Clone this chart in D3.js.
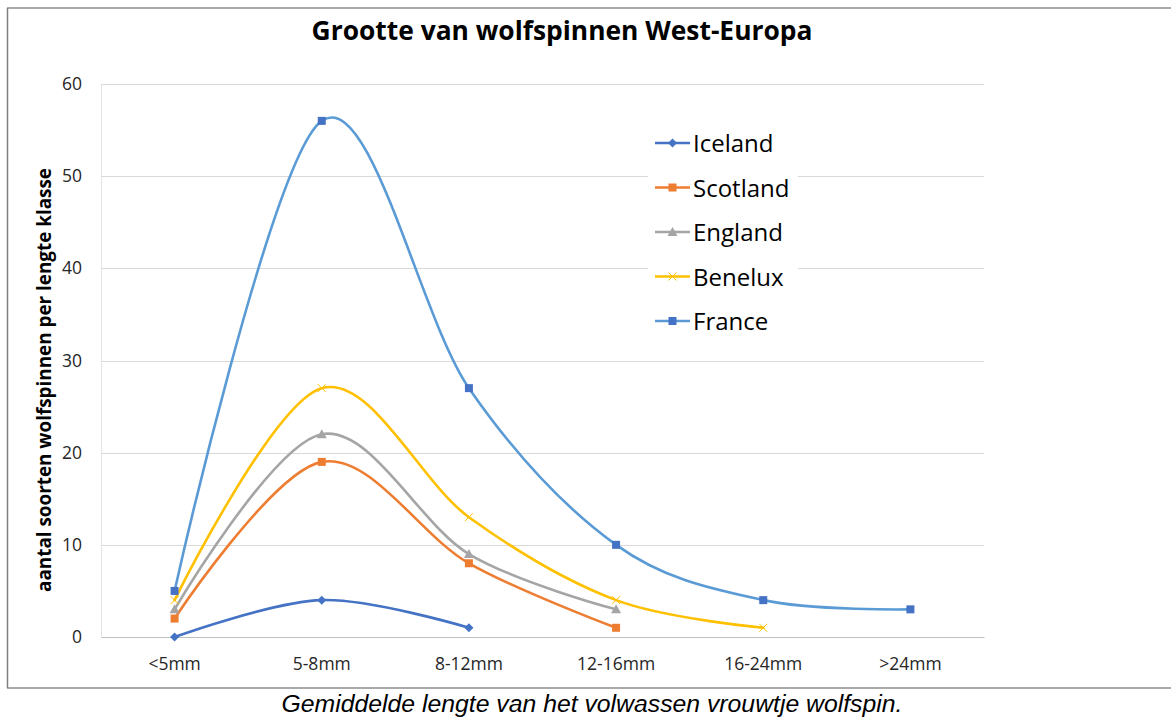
<!DOCTYPE html>
<html>
<head>
<meta charset="utf-8">
<script src="https://cdn.jsdelivr.net/npm/d3@7/dist/d3.min.js"></script>
<style>
  html, body { margin: 0; padding: 0; background: #fff; }
  svg { display: block; }
</style>
</head>
<body>
<svg id="chart" width="1171" height="718"></svg>
<script>
// ---- data ----
const categories = ["<5mm", "5-8mm", "8-12mm", "12-16mm", "16-24mm", ">24mm"];
const seriesNames = ["Iceland", "Scotland", "England", "Benelux", "France"];
const iceland  = [0, 4, 1];
const scotland = [2, 19, 8, 1];
const england  = [3, 22, 9, 3];
const benelux  = [4, 27, 13, 4, 1];
const france   = [5, 56, 27, 10, 4, 3];
const yTicks = [0, 10, 20, 30, 40, 50, 60];
const titleText = "Grootte van wolfspinnen West-Europa";
const yTitleText = "aantal soorten  wolfspinnen per lengte klasse";
const captionText = "Gemiddelde lengte van het volwassen vrouwtje wolfspin.";

// ---- styling ----
const styles = [
  { line: "#4472C4", fill: "#4472C4", marker: "diamond" },
  { line: "#ED7D31", fill: "#ED7D31", marker: "square" },
  { line: "#A5A5A5", fill: "#A5A5A5", marker: "triangle" },
  { line: "#FFC000", fill: "#FFC000", marker: "x" },
  { line: "#5B9BD5", fill: "#4472C4", marker: "square" }
];
const allSeries = [iceland, scotland, england, benelux, france];

const svg = d3.select("#chart");
const W = 1171, H = 718;
const plot = { left: 101, right: 984, top: 84, bottom: 637 };

const x = d3.scaleBand().domain(categories).range([plot.left, plot.right]);
const y = d3.scaleLinear().domain([0, 60]).range([plot.bottom, plot.top]);
const cx = c => x(c) + x.bandwidth() / 2;

const font = "'Open Sans', 'DejaVu Sans', sans-serif";

function fitText(sel, width) {
  const node = sel.node();
  const fs = parseFloat(sel.attr("font-size"));
  const w = node.getComputedTextLength();
  sel.attr("font-size", (fs * width / w).toFixed(2));
}

// frame
svg.append("line").attr("x1", 7.5).attr("x2", 7.5).attr("y1", 8).attr("y2", 688)
  .attr("stroke", "#7f7f7f").attr("stroke-width", 1.5);
svg.append("line").attr("x1", 7).attr("x2", W).attr("y1", 8).attr("y2", 8)
  .attr("stroke", "#8c8c8c").attr("stroke-width", 1.5);
svg.append("line").attr("x1", 7).attr("x2", W).attr("y1", 688).attr("y2", 688)
  .attr("stroke", "#8c8c8c").attr("stroke-width", 1.5);

// gridlines
svg.append("g").selectAll("line").data(yTicks.filter(d => d > 0)).join("line")
  .attr("x1", plot.left).attr("x2", plot.right)
  .attr("y1", d => Math.round(y(d)) + 0.5).attr("y2", d => Math.round(y(d)) + 0.5)
  .attr("stroke", "#d9d9d9").attr("stroke-width", 1);
// left plot border
svg.append("line").attr("x1", plot.left + 0.5).attr("x2", plot.left + 0.5)
  .attr("y1", plot.top).attr("y2", plot.bottom)
  .attr("stroke", "#e3e3e3").attr("stroke-width", 1);

// y axis labels via d3 axis
const yAxis = svg.append("g").attr("transform", `translate(${plot.left - 19},0)`)
  .call(d3.axisLeft(y).tickValues(yTicks).tickSize(0).tickPadding(0));
yAxis.select(".domain").remove();
yAxis.selectAll("text").attr("font-family", font).attr("font-size", 17.5)
  .attr("fill", "#262626");

// x axis
const xAxis = svg.append("g").attr("transform", `translate(0,${plot.bottom})`)
  .call(d3.axisBottom(x).tickSize(0).tickPadding(21));
xAxis.select(".domain").attr("stroke", "#bfbfbf").attr("stroke-width", 1.2);
xAxis.selectAll("text").attr("font-family", font).attr("font-size", 17.5)
  .attr("fill", "#262626");

// legend background
const legend = svg.append("g");
legend.append("rect").attr("x", 648).attr("y", 120).attr("width", 150).attr("height", 222)
  .attr("fill", "#fff");

// series
const lineGen = d3.line().curve(d3.curveCardinal.tension(0))
  .x((d, i) => cx(categories[i])).y(d => y(d));

function drawMarker(g, type, px, py, st) {
  const s = 8;
  if (type === "square") {
    g.append("rect").attr("x", px - s / 2).attr("y", py - s / 2).attr("width", s).attr("height", s)
      .attr("fill", st.fill);
  } else if (type === "diamond") {
    g.append("path").attr("d", `M${px},${py - 4.5}L${px + 4.5},${py}L${px},${py + 4.5}L${px - 4.5},${py}Z`)
      .attr("fill", st.fill);
  } else if (type === "triangle") {
    g.append("path").attr("d", `M${px},${py - 5}L${px + 5},${py + 4}L${px - 5},${py + 4}Z`)
      .attr("fill", st.fill);
  } else if (type === "x") {
    g.append("path").attr("d", `M${px - 4},${py - 4}L${px + 4},${py + 4}M${px - 4},${py + 4}L${px + 4},${py - 4}`)
      .attr("stroke", st.fill).attr("stroke-width", 1);
  }
}

const seriesG = svg.append("g");
allSeries.forEach((vals, si) => {
  const st = styles[si];
  const g = seriesG.append("g");
  g.append("path").datum(vals).attr("d", lineGen)
    .attr("fill", "none").attr("stroke", st.line).attr("stroke-width", 2.6)
    .attr("stroke-linejoin", "round").attr("stroke-linecap", "round");
  vals.forEach((v, i) => drawMarker(g, st.marker, cx(categories[i]), y(v), st));
});

// legend entries
seriesNames.forEach((name, i) => {
  const st = styles[i];
  const ly = 143 + i * 44.5;
  const g = legend.append("g");
  g.append("line").attr("x1", 655).attr("x2", 690).attr("y1", ly).attr("y2", ly)
    .attr("stroke", st.line).attr("stroke-width", 2.6);
  drawMarker(g, st.marker, 672.5, ly, st);
  g.append("text").attr("x", 693).attr("y", ly + 9).text(name)
    .attr("font-family", font).attr("font-size", 24).attr("fill", "#000");
});

// title
const t = svg.append("text").attr("x", 562).attr("y", 40).attr("text-anchor", "middle")
  .attr("font-family", font).attr("font-weight", "bold").attr("font-size", 24)
  .attr("fill", "#000").text(titleText);
fitText(t, 501);

// y title
const yt = svg.append("text").attr("transform", "translate(51,380) rotate(-90)")
  .attr("text-anchor", "middle").attr("font-family", font).attr("font-weight", "bold")
  .attr("font-size", 14).attr("fill", "#000").text(yTitleText);
fitText(yt, 424);

// caption
const cap = svg.append("text").attr("x", 592).attr("y", 712).attr("text-anchor", "middle")
  .attr("font-family", "'Liberation Sans', Arial, sans-serif").attr("font-style", "italic")
  .attr("font-size", 22).attr("fill", "#000").text(captionText);
fitText(cap, 621);
</script>
</body>
</html>
